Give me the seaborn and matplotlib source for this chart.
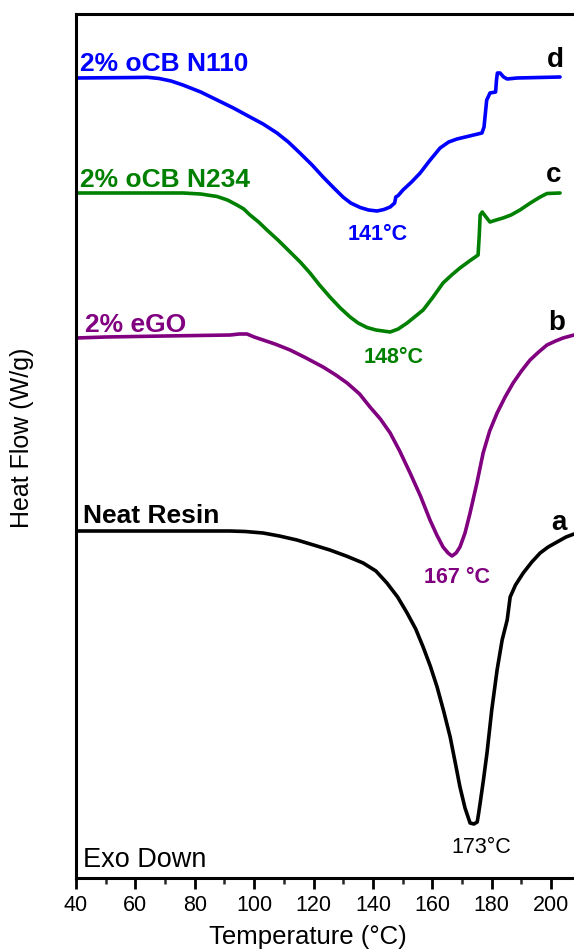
import numpy as np
import pandas as pd
import matplotlib
matplotlib.use("Agg")
import matplotlib.pyplot as plt
import seaborn as sns
from matplotlib.ticker import MultipleLocator

# ---- data (temperature in °C, heat flow in arbitrary offset units W/g) ----
t_d = [40, 60, 64, 68, 72, 76, 82, 87.5, 93, 98.6, 103, 107.7, 111.5, 115.4, 119.5, 123.2,
       126.5, 129.9, 132.5, 135.7, 138.5, 141.4, 143.7, 145.8, 147.3, 147.7, 148.5, 150.1,
       153, 155.9, 159, 162.6, 165.5, 168.3, 172.5, 176.7, 177.4, 178.3, 178.8, 179.4,
       181.3, 181.6, 181.9, 182.8, 184, 185.2, 188.5, 203]
hf_d = [8.00, 8.005, 8.007, 7.995, 7.97, 7.93, 7.86, 7.78, 7.70, 7.61, 7.54, 7.45, 7.36, 7.25,
        7.13, 7.01, 6.91, 6.81, 6.75, 6.705, 6.68, 6.67, 6.685, 6.71, 6.75, 6.81, 6.825, 6.88,
        6.96, 7.05, 7.17, 7.30, 7.36, 7.39, 7.42, 7.45, 7.51, 7.78, 7.81, 7.85,
        7.86, 7.98, 8.05, 8.05, 8.01, 7.99, 8.00, 8.01]

t_c = [40, 76, 82, 87.5, 91, 94.2, 96.5, 98.6, 101.5, 104.3, 108, 112.1, 115.5, 118.8, 122,
       125.5, 129, 132.3, 135, 138, 141, 143.4, 145.8, 148.5, 151.5, 154, 156.9, 160, 163.6,
       166.5, 169.3, 172.5, 175.4, 175.8, 176.1, 176.8, 177.8, 179.4, 181.5, 183.8, 186.5,
       189.5, 193, 196.3, 198.6, 203]
hf_c = [6.85, 6.85, 6.84, 6.815, 6.78, 6.73, 6.69, 6.63, 6.56, 6.48, 6.38, 6.26, 6.16, 6.05,
        5.93, 5.81, 5.70, 5.61, 5.55, 5.505, 5.48, 5.47, 5.46, 5.49, 5.55, 5.61, 5.68, 5.80,
        5.95, 6.03, 6.10, 6.17, 6.23, 6.43, 6.63, 6.66, 6.62, 6.56, 6.58, 6.60, 6.63,
        6.68, 6.75, 6.81, 6.845, 6.85]

t_b = [40, 50, 70, 91.9, 95, 97.6, 100, 103, 107, 112.1, 117.5, 123.2, 127.5, 131.3, 135.5,
       139, 142.5, 145.8, 149, 152.5, 156, 159.2, 161.5, 163.6, 165.3, 166.6, 168, 169.3, 171,
       172.7, 175, 177.1, 179.3, 181.8, 184.5, 187.2, 190, 192.9, 195.8, 198.6, 201.5, 204,
       207.7]
hf_b = [5.40, 5.41, 5.42, 5.43, 5.44, 5.44, 5.41, 5.38, 5.34, 5.28, 5.20, 5.11, 5.03, 4.95,
        4.84, 4.71, 4.59, 4.45, 4.27, 4.05, 3.82, 3.58, 3.43, 3.31, 3.25, 3.22, 3.25, 3.31,
        3.45, 3.65, 3.95, 4.25, 4.47, 4.65, 4.81, 4.95, 5.07, 5.18, 5.26, 5.33, 5.37, 5.40,
        5.43]

t_a = [40, 91.9, 97, 103, 108.5, 114.4, 120, 125.5, 131, 136.7, 141, 144.7, 148.3, 151.5,
       154.4, 156.9, 159.3, 161.6, 163.8, 166, 167.8, 169.3, 171, 172.7, 174, 175.1, 175.5,
       176.1, 177.2, 178.4, 180, 181.8, 183.5, 185.2, 186.2, 188, 190.6, 193.5, 196.3, 199,
       202, 205, 207.7]
hf_a = [3.47, 3.47, 3.465, 3.45, 3.42, 3.38, 3.33, 3.28, 3.22, 3.15, 3.07, 2.95, 2.81, 2.65,
        2.49, 2.31, 2.12, 1.91, 1.67, 1.41, 1.14, 0.91, 0.70, 0.55, 0.54, 0.56, 0.63,
        0.75, 0.98, 1.25, 1.68, 2.08, 2.38, 2.58, 2.81, 2.93, 3.05, 3.16, 3.25, 3.31,
        3.36, 3.41, 3.44]

samples = ["Neat Resin", "2% eGO", "2% oCB N234", "2% oCB N110"]
letters = ["a", "b", "c", "d"]
peaks = ["173°C", "167 °C", "148°C", "141°C"]
colors = ["#000000", "#800080", "#008000", "#0000FF"]

frames = []
for name, t, hf in zip(samples, [t_a, t_b, t_c, t_d], [hf_a, hf_b, hf_c, hf_d]):
    frames.append(pd.DataFrame({"T": t, "HF": hf, "sample": name}))
df = pd.concat(frames, ignore_index=True)

sns.set_theme(style="white")
plt.rcParams["font.family"] = ["Liberation Sans", "DejaVu Sans"]

fig = plt.figure(figsize=(5.74, 9.5), dpi=100)
ax = fig.add_axes([76 / 574, 72 / 950, 498 / 574, 864 / 950])

sns.lineplot(data=df, x="T", y="HF", hue="sample", palette=dict(zip(samples, colors)),
             estimator=None, sort=False, linewidth=2.6, legend=False, ax=ax)
for ln in ax.lines:
    ln.set_solid_joinstyle("round")
    ln.set_solid_capstyle("round")

ax.set_xlim(40, 207.7)
ax.set_ylim(0, 8.64)
ax.set_yticks([])
ax.xaxis.set_major_locator(MultipleLocator(20))
ax.xaxis.set_minor_locator(MultipleLocator(10))
ax.tick_params(axis="x", which="major", direction="out", length=8, width=2,
               labelsize=15.5, colors="black", bottom=True, pad=4)
ax.tick_params(axis="x", which="minor", direction="out", length=4.5, width=1.8, bottom=True)
for s in ["left", "top", "bottom"]:
    ax.spines[s].set_color("black")
    ax.spines[s].set_linewidth(2.2)
ax.spines["right"].set_visible(False)

ax.set_xlabel("")
ax.set_ylabel("")
fig.text(308 / 574, 1 - 937 / 950, "Temperature (°C)", ha="center", va="center",
         fontsize=18.5, color="black")
fig.text(22 / 574, 1 - 438 / 950, "Heat Flow (W/g)", ha="center", va="center",
         rotation=90, fontsize=18, color="black")

# sample names
name_pos = [(42.4, 3.55), (43.0, 5.46), (41.3, 6.91), (41.3, 8.07)]
for name, c, (x, y) in zip(samples, colors, name_pos):
    ax.text(x, y, name, color=c, fontsize=19, fontweight="bold", ha="left", va="baseline")

# curve letters
letter_pos = [(202.5, 3.48), (202.0, 5.48), (200.8, 6.96), (201.3, 8.11)]
for lt, (x, y) in zip(letters, letter_pos):
    ax.text(x, y, lt, color="black", fontsize=20, fontweight="bold", ha="center", va="baseline")

# peak temperatures
peak_pos = [(176.4, 0.25), (168.3, 2.95), (146.8, 5.15), (141.7, 6.38)]
weights = ["normal", "bold", "bold", "bold"]
for pk, c, w, (x, y) in zip(peaks, colors, weights, peak_pos):
    ax.text(x, y, pk, color=c, fontsize=15.5, fontweight=w, ha="center", va="baseline")

ax.text(42.4, 0.11, "Exo Down", color="black", fontsize=19.5, ha="left", va="baseline")

fig.savefig("out.png", dpi=100)
